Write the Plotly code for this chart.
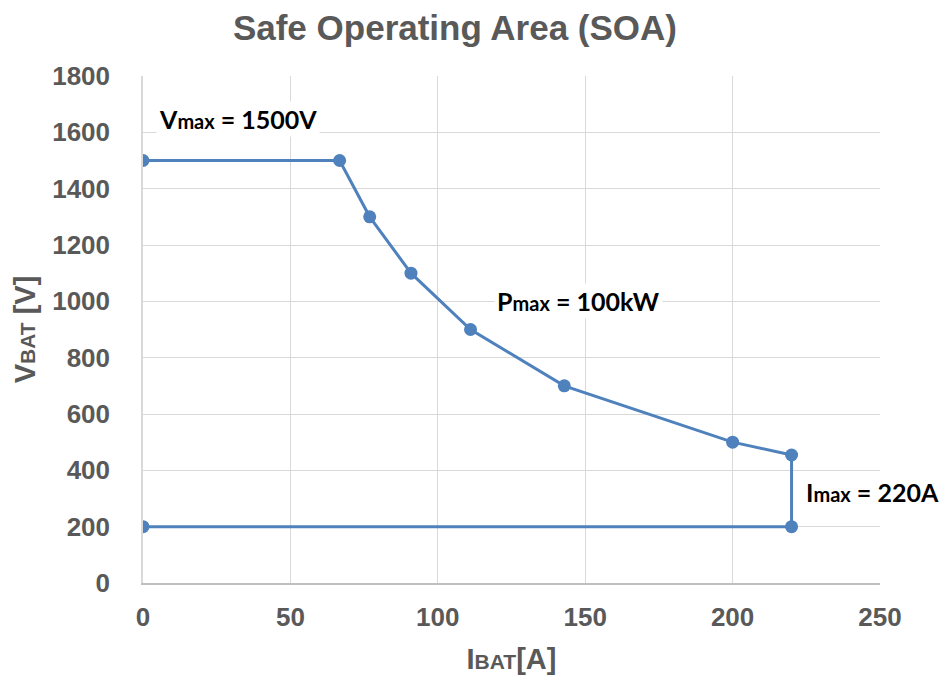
import plotly.graph_objects as go

# Data: SOA boundary (current in A, voltage in V)
current_a = [0, 66.7, 76.9, 90.9, 111.1, 142.9, 200, 220, 220, 0]
voltage_v = [1500, 1500, 1300, 1100, 900, 700, 500, 454.5, 200, 200]

x_ticks = [0, 50, 100, 150, 200, 250]
y_ticks = [0, 200, 400, 600, 800, 1000, 1200, 1400, 1600, 1800]

ann_text = ["<b>V<span style='font-size:20px'>max</span> = 1500V</b>",
            "<b>P<span style='font-size:20px'>max</span> = 100kW</b>",
            "<b>I<span style='font-size:20px'>max</span> = 220A</b>"]
ann_x = [4.5, 119, 224]
ann_y = [1647, 1001, 323]

blue = "#4f81bd"
gray = "#595959"
tick_font = dict(family="Liberation Sans Narrow, Arial Narrow, Liberation Sans, Arial", size=26, color=gray)

fig = go.Figure()
fig.add_trace(go.Scatter(
    x=current_a, y=voltage_v, mode="lines+markers",
    line=dict(color=blue, width=3),
    marker=dict(color=blue, size=13),
    showlegend=False, hoverinfo="skip"))

for t, x, y in zip(ann_text, ann_x, ann_y):
    fig.add_annotation(x=x, y=y, text=t, showarrow=False, xanchor="left", yanchor="middle",
                       font=dict(family="Lato, Carlito, Calibri, sans-serif", size=25, color="#000000"),
                       bgcolor="white", borderpad=2)

fig.update_layout(
    width=952, height=679,
    paper_bgcolor="white", plot_bgcolor="white",
    margin=dict(l=135, r=80, t=68, b=104, autoexpand=False),
    title=dict(text="<b>Safe Operating Area (SOA)</b>", x=0.4695, xanchor="center", y=0.9705, yanchor="middle",
               font=dict(family="Liberation Sans, Arial", size=35, color=gray)),
    xaxis=dict(range=[0, 250], tickvals=x_ticks, ticktext=[f"<b>{v}</b>" for v in x_ticks],
               tickfont=tick_font, showgrid=True, gridcolor="#d9d9d9", gridwidth=1.3,
               showline=True, linecolor="#bfbfbf", linewidth=1.5, mirror=False, zeroline=False,
               ticks="", ticklabelstandoff=10, automargin=False,
               title=dict(text="<b>I<span style='font-size:21px'>BAT</span>[A]</b>", standoff=18,
                          font=dict(family="Liberation Sans Narrow, Arial Narrow, Liberation Sans, Arial", size=29, color=gray))),
    yaxis=dict(range=[0, 1800], tickvals=y_ticks, ticktext=[f"<b>{v}</b>" for v in y_ticks],
               tickfont=tick_font, showgrid=True, gridcolor="#d9d9d9", gridwidth=1.3,
               showline=True, linecolor="#d9d9d9", linewidth=1.5, zeroline=False,
               ticks="", ticklabelstandoff=26, automargin=False,
               title=dict(text="<b>V<span style='font-size:21px'>BAT</span> [V]</b>", standoff=8,
                          font=dict(family="Liberation Sans, Arial", size=29, color=gray))),
)

fig.write_html("out.html")
